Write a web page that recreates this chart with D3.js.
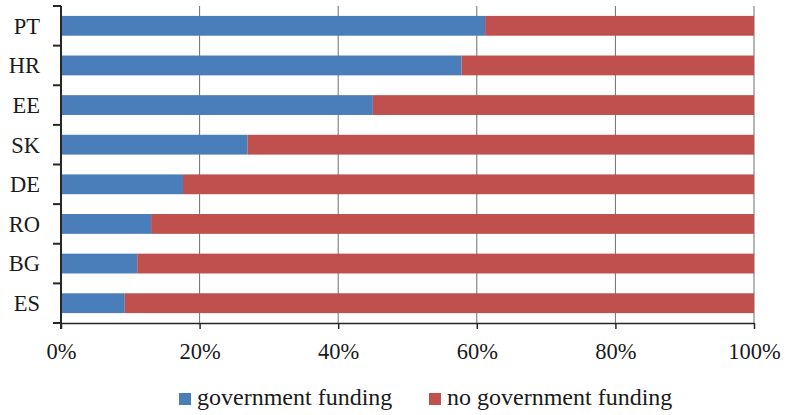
<!DOCTYPE html>
<meta charset="utf-8">
<style>
body { margin: 0; background: #fff; }
.axis path, .axis line { stroke: #262626; }
.grid line { stroke: #6e6e6e; stroke-width: 1px; }
</style>
<svg width="786" height="415" id="chart1"></svg>
<script src="https://cdnjs.cloudflare.com/ajax/libs/d3/7.8.5/d3.min.js"></script>
<script>

var countries = ["PT", "HR", "EE", "SK", "DE", "RO", "BG", "ES"];
var govFunding = [61.2, 57.8, 45.0, 26.9, 17.6, 13.0, 11.0, 9.2];
var noGovFunding = govFunding.map(function(v) { return 100 - v; });
var seriesNames = ["government funding", "no government funding"];
var seriesColors = ["#4a7ebb", "#c0504d"];
var xTicks = [0, 20, 40, 60, 80, 100];

var serif = "'Liberation Serif'";

var svg = d3.select("svg#chart1"),
    margin = {top: 6, right: 32, bottom: 92, left: 61},
    width = 754 - margin.left,
    height = 323 - margin.top,
    g = svg.append("g").attr("transform", "translate(" + margin.left + "," + margin.top + ")");

var x = d3.scaleLinear().domain([0, 100]).range([0, width]),
    y = d3.scaleBand().domain(countries).range([0, height]).paddingInner(0.5).paddingOuter(0.25);

var rows = countries.map(function(c, i) {
  return {country: c, gov: govFunding[i], nogov: noGovFunding[i]};
});
var stack = d3.stack().keys(["gov", "nogov"])(rows);

// vertical gridlines behind bars
g.append("g")
    .attr("class", "grid")
  .selectAll("line")
  .data(xTicks.slice(1))
  .enter().append("line")
    .attr("x1", function(d) { return x(d); })
    .attr("x2", function(d) { return x(d); })
    .attr("y1", 0)
    .attr("y2", height);

g.selectAll(".series")
  .data(stack)
  .enter().append("g")
    .attr("class", "series")
    .attr("fill", function(d, i) { return seriesColors[i]; })
  .selectAll("rect")
  .data(function(d) { return d; })
  .enter().append("rect")
    .attr("x", function(d) { return x(d[0]); })
    .attr("width", function(d) { return x(d[1]) - x(d[0]); })
    .attr("y", function(d) { return y(d.data.country); })
    .attr("height", y.bandwidth());

// y axis with ticks at category boundaries
var yAxis = g.append("g").attr("class", "axis axis--y");
yAxis.append("line")
    .attr("x1", 0).attr("x2", 0)
    .attr("y1", 0).attr("y2", height + 6)
    .attr("stroke-width", 2);
yAxis.selectAll(".tick")
  .data(d3.range(countries.length + 1))
  .enter().append("line")
    .attr("x1", -8).attr("x2", 0)
    .attr("y1", function(d) { return d * y.step(); })
    .attr("y2", function(d) { return d * y.step(); })
    .attr("stroke-width", 2);
yAxis.selectAll("text")
  .data(countries)
  .enter().append("text")
    .attr("x", -21)
    .attr("y", function(d) { return y(d) + y.bandwidth() / 2; })
    .attr("dy", "0.35em")
    .attr("text-anchor", "end")
    .style("font-family", serif)
    .style("font-size", "22.5px")
    .style("fill", "#1a1a1a")
    .text(function(d) { return d; });

var xAxis = g.append("g")
    .attr("class", "axis axis--x")
    .attr("transform", "translate(0," + height + ")")
    .call(d3.axisBottom(x)
          .tickValues(xTicks)
          .tickSize(6)
          .tickPadding(14)
          .tickSizeOuter(0)
          .tickFormat(function(d) { return d + "%"; }));
xAxis.select(".domain").attr("stroke-width", 1.5);
xAxis.selectAll("text")
    .style("font-family", serif)
    .style("font-size", "22.5px")
    .style("fill", "#1a1a1a");
xAxis.selectAll("line").attr("stroke-width", 1.5);

// legend
var legend = svg.append("g").attr("transform", "translate(0,405)");
var legendX = [179, 429];
var item = legend.selectAll(".item")
  .data(seriesNames)
  .enter().append("g")
    .attr("class", "item")
    .attr("transform", function(d, i) { return "translate(" + legendX[i] + ",0)"; });
item.append("rect")
    .attr("x", 0).attr("y", -12)
    .attr("width", 12).attr("height", 12)
    .attr("fill", function(d, i) { return seriesColors[i]; });
item.append("text")
    .attr("x", 18)
    .attr("y", 0)
    .style("font-family", serif)
    .style("font-size", "24px")
    .style("fill", "#1a1a1a")
    .text(function(d) { return d; });

</script>
